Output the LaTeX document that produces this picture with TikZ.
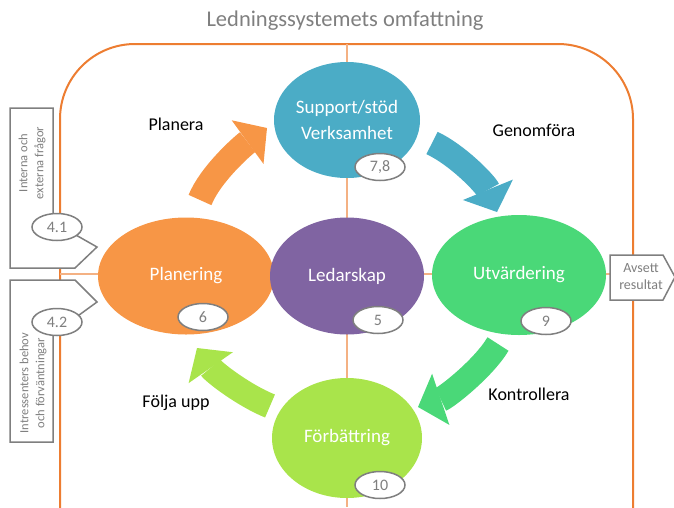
\documentclass[tikz,border=0pt]{standalone}
\usepackage{fontspec}
\setmainfont{Carlito}
\usetikzlibrary{shapes.geometric,arrows.meta}
\definecolor{txtgray}{HTML}{7F7F7F}
\definecolor{border}{HTML}{ED7D31}
\definecolor{crossc}{HTML}{F4B183}
\definecolor{cteal}{HTML}{4BACC6}
\definecolor{corange}{HTML}{F79646}
\definecolor{cpurple}{HTML}{8064A2}
\definecolor{cgreen}{HTML}{4AD878}
\definecolor{clime}{HTML}{A9E44B}
\tikzset{
  bigell/.style={ellipse, inner sep=0pt, text=white, align=center,
    font=\fontsize{19}{26}\selectfont},
  numell/.style={ellipse, draw=txtgray, fill=white, line width=1.5pt,
    minimum width=50pt, minimum height=27pt, inner sep=0pt, text=txtgray,
    font=\fontsize{16}{19}\selectfont},
  blockarrow/.style={line width=25pt,
    -{Triangle[length=24pt,width=54pt,line width=0pt]}},
  steplabel/.style={text=black, font=\fontsize{18}{22}\selectfont},
  sidebox/.style={draw=txtgray, fill=white, line width=1.5pt, line join=miter},
  sidetext/.style={text=txtgray, align=center, font=\fontsize{12.5}{16}\selectfont},
  crossline/.style={crossc, line width=2.5pt},
}
\begin{document}
\begin{tikzpicture}[x=1pt,y=-1pt]
\useasboundingbox (0,0) rectangle (674,507);
\clip (0,0) rectangle (674,507);

\node[text=txtgray, font=\fontsize{22.5}{27}\selectfont] (title) at (345,21) {Ledningssystemets omfattning};

% border
\draw[border, line width=2pt, rounded corners=75pt] (60,44) rectangle (633,590);

% cross lines
\coordinate (vtop) at (347,44);
\coordinate (vbot) at (347,507);
\coordinate (hl) at (60,274);
\coordinate (hr) at (633,274);
\draw[crossline] (vtop) -- (vbot);
\draw[crossline] (hl) -- (hr);

% arrows
\coordinate (a1s) at (200,200); \coordinate (a1e) at (267,128);
\coordinate (a2s) at (432,143); \coordinate (a2e) at (497,212);
\coordinate (a3s) at (498,344); \coordinate (a3e) at (418,407);
\coordinate (a4s) at (270,406); \coordinate (a4e) at (197,348);
\draw[blockarrow, corange] (a1s) .. controls (210.5,174) and (242.7,145.7) .. (a1e);
\draw[blockarrow, cteal] (a2s) .. controls (457.4,154.8) and (485.6,184.1) .. (a2e);
\draw[blockarrow, cgreen] (a3s) .. controls (483.7,368.1) and (446.4,397.4) .. (a3e);
\draw[blockarrow, clime] (a4s) .. controls (244,395.5) and (214.2,372.6) .. (a4e);

% main ellipses
\node[bigell, fill=cteal, minimum width=146pt, minimum height=116pt] (sup) at (347,120) {Support/stöd\\Verksamhet};
\node[bigell, fill=corange, minimum width=176pt, minimum height=117pt] (plan) at (186,276) {Planering};
\node[bigell, fill=cpurple, minimum width=154pt, minimum height=117pt] (led) at (347,276) {Ledarskap};
\node[bigell, fill=cgreen, minimum width=174pt, minimum height=120pt] (utv) at (519,275) {Utvärdering};
\node[bigell, fill=clime, minimum width=150pt, minimum height=120pt] (forb) at (347,438) {Förbättring};

% number ellipses
\node[numell] (n78) at (380,167) {7,8};
\node[numell] (n6) at (203,317) {6};
\node[numell] (n5) at (378,320) {5};
\node[numell] (n9) at (546,321) {9};
\node[numell] (n10) at (380,485) {10};

% step labels
\node[steplabel] (lplan) at (176,124) {Planera};
\node[steplabel] (lgen) at (534,130) {Genomföra};
\node[steplabel] (lkon) at (529,394) {Kontrollera};
\node[steplabel] (lfol) at (176,403) {Följa upp};

% side boxes
\draw[sidebox] (10,108) -- (53,108) -- (53,222) -- (97,247) -- (75,268) -- (10,268) -- cycle;
\node[sidetext, rotate=90] (t41) at (32,163) {Interna och\\externa frågor};
\node[numell] (n41) at (57,227) {4.1};

\draw[sidebox] (10,280) -- (75,280) -- (97,302) -- (53,334) -- (53,442) -- (10,442) -- cycle;
\node[sidetext, rotate=90] (t42) at (33,383) {Intressenters behov\\och förväntningar};
\node[numell] (n42) at (57,322) {4.2};

\draw[sidebox] (610,255) -- (663,255) -- (675,277) -- (663,300) -- (610,300) -- cycle;
\node[sidetext, font=\fontsize{14}{17}\selectfont] (tres) at (641,277) {Avsett\\resultat};
\end{tikzpicture}
\end{document}
